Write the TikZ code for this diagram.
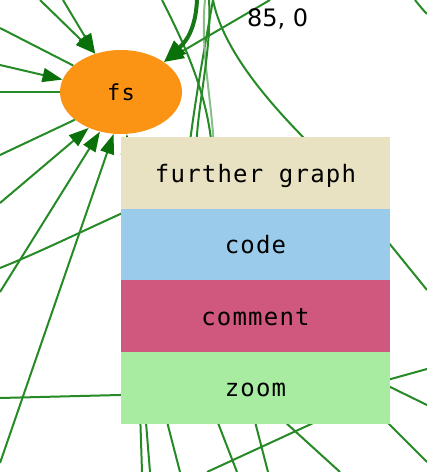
\documentclass[tikz,border=0pt]{standalone}
\usepackage{fontspec}
\usetikzlibrary{shapes.geometric,arrows.meta}
\newfontfamily\menufont[LetterSpace=5]{DejaVu Sans Mono}
\newfontfamily\labfont{DejaVu Sans}
\definecolor{eg}{RGB}{38,138,38}
\definecolor{headg}{RGB}{10,112,10}
\definecolor{thickg}{RGB}{22,120,22}
\definecolor{fsorange}{RGB}{251,148,20}
\definecolor{mbeige}{RGB}{232,226,194}
\definecolor{mblue}{RGB}{154,203,234}
\definecolor{mpink}{RGB}{208,88,126}
\definecolor{mgreen}{RGB}{168,236,162}
\begin{document}
\begin{tikzpicture}[x=1pt,y=-1pt,
  edge/.style={draw=eg, line width=2pt},
  lightedge/.style={draw=eg!55, line width=2pt},
  arr/.style={edge, -{Triangle[length=20pt,width=14pt,color=headg]}},
  thickarr/.style={draw=thickg, line width=4pt, -{Triangle[length=22pt,width=17pt,color=headg]}},
  gnode/.style={ellipse, fill=fsorange, draw=none, minimum width=122pt, minimum height=84pt, inner sep=0pt, font=\menufont\fontsize{22}{22}\selectfont},
  menurow/.style={rectangle, draw=none, minimum width=269pt, minimum height=72pt, inner sep=0pt, text height=18pt, text depth=0pt, font=\menufont\fontsize{24}{24}\selectfont}
]
\useasboundingbox (0,0) rectangle (427,472);
\fill[white] (0,0) rectangle (427,472);

\node[gnode] (fs) at (121,92) {fs};

% free ends
\coordinate (a1) at (40,0);
\coordinate (a2) at (63,0);
\coordinate (a3) at (0,65);
\coordinate (a4) at (0,203);
\coordinate (a5) at (0,292);
\coordinate (a6) at (0,463);
\coordinate (a7) at (135,300);
\coordinate (a8) at (197,0);
\coordinate (a9) at (270,0);
\coordinate (o1) at (0,28);
\coordinate (o2) at (0,92);
\coordinate (o3) at (0,155);
\coordinate (p1s) at (0,268);  \coordinate (p1e) at (170,192);
\coordinate (p2s) at (0,398);  \coordinate (p2e) at (160,394);
\coordinate (p3s) at (162,0);  \coordinate (p3e) at (212,150);
\coordinate (p4s) at (213,0);  \coordinate (p4e) at (189,150);
\coordinate (p5s) at (205,0);  \coordinate (p5e) at (214,150);
\coordinate (p6s) at (209,0);  \coordinate (p6e) at (196,150);
\coordinate (p7s) at (213,0);  \coordinate (p7e) at (316,150);
\coordinate (q1s) at (415,0);  \coordinate (q1e) at (427,14);
\coordinate (r1s) at (380,232); \coordinate (r1e) at (427,290);
\coordinate (r2s) at (380,382); \coordinate (r2e) at (427,369);
\coordinate (r3s) at (380,382); \coordinate (r3e) at (427,405);
\coordinate (r4s) at (378,413); \coordinate (r4e) at (427,462);
\coordinate (b1s) at (140,410); \coordinate (b1e) at (142,472);
\coordinate (b2s) at (145,410); \coordinate (b2e) at (150,472);
\coordinate (b3s) at (164,410); \coordinate (b3e) at (180,472);
\coordinate (b4s) at (213,410); \coordinate (b4e) at (237,472);
\coordinate (b5s) at (252,410); \coordinate (b5e) at (268,472);
\coordinate (b6s) at (274,412); \coordinate (b6e) at (340,472);
\coordinate (b7s) at (335,413); \coordinate (b7e) at (207,472);

% pass-through edges
\draw[edge] (p1s) .. controls (50,248) and (100,222) .. (p1e);
\draw[edge] (p2s) -- (p2e);
\draw[edge] (p3s) .. controls (185,45) and (208,95) .. (p3e);
\draw[edge] (p4s) .. controls (205,45) and (195,100) .. (p4e);
\draw[lightedge] (p5s) .. controls (200,50) and (212,100) .. (p5e);
\draw[edge] (p6s) .. controls (212,50) and (198,100) .. (p6e);
\draw[edge] (p7s) .. controls (222,45) and (260,95) .. (p7e);
\draw[edge] (q1s) .. controls (419,5) and (423,10) .. (q1e);
\draw[edge] (r1s) -- (r1e);
\draw[edge] (r2s) -- (r2e);
\draw[edge] (r3s) -- (r3e);
\draw[edge] (r4s) -- (r4e);
\draw[edge] (b1s) -- (b1e);
\draw[edge] (b2s) -- (b2e);
\draw[edge] (b3s) -- (b3e);
\draw[edge] (b4s) -- (b4e);
\draw[edge] (b5s) -- (b5e);
\draw[edge] (b6s) -- (b6e);
\draw[edge] (b7s) -- (b7e);

% edges out of fs
\draw[edge] (fs.151) -- (o1);
\draw[edge] (fs.180) -- (o2);
\draw[edge] (fs.211) -- (o3);

% edges into fs
\draw[arr] (a1) -- (fs.124);
\draw[arr] (a2) -- (fs.124);
\draw[arr] (a3) -- (fs.168);
\draw[arr] (a4) -- (fs.228);
\draw[arr] (a5) -- (fs.242);
\draw[arr] (a6) -- (fs.260);
\draw[arr] (a7) -- (fs.278);
\draw[arr] (a9) -- (fs.35);
\draw[thickarr] (a8) .. controls (196,22) and (190,38) .. (fs.35);

% context menu
\node[menurow, fill=mbeige] (further) at (255.5,173) {further graph};
\node[menurow, fill=mblue] (code) at (255.5,244.5) {code};
\node[menurow, fill=mpink] (comment) at (255.5,316) {comment};
\node[menurow, fill=mgreen] (zoom) at (255.5,387.5) {zoom};

\node[anchor=base west, inner sep=0pt, font=\labfont\fontsize{24}{24}\selectfont] (coords) at (247,26.7) {85, 0};
\end{tikzpicture}
\end{document}
